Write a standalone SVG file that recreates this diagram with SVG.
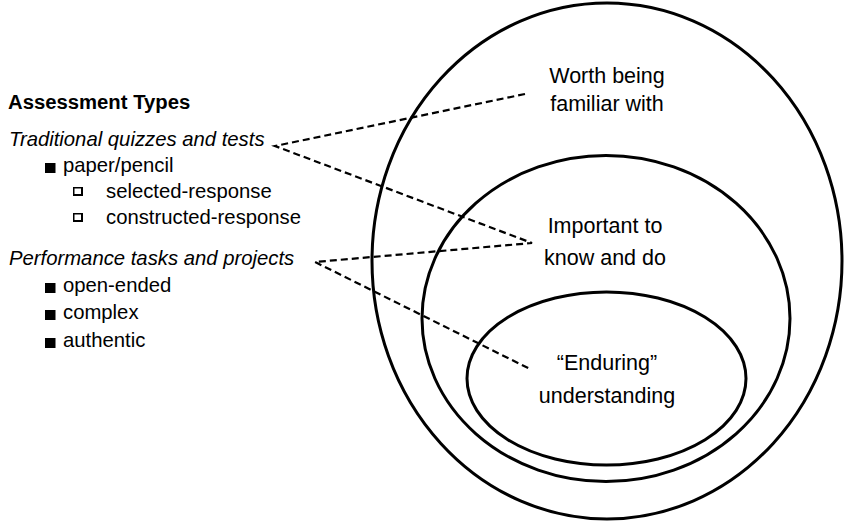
<svg xmlns="http://www.w3.org/2000/svg" width="850" height="524" viewBox="0 0 850 524">
<style>
text{font-family:"Liberation Sans",Arial,sans-serif;fill:#000}
.lt{font-size:20.3px}
.rt{font-size:21.5px;text-anchor:middle}
.ring{fill:none;stroke:#000;stroke-width:3}
.dash{fill:none;stroke:#000;stroke-width:2.2;stroke-dasharray:7 4}
.fb{fill:#000}
.hw{fill:#fff}
</style>
<rect width="850" height="524" fill="#fff"/>
<g id="outer"><ellipse class="ring" cx="607" cy="261" rx="235" ry="258"/></g>
<g id="middle"><ellipse class="ring" cx="606" cy="318.5" rx="184" ry="163"/></g>
<g id="inner"><ellipse class="ring" cx="606.5" cy="378.5" rx="139.5" ry="86.5"/></g>
<g id="label-worth"><text class="rt" x="607" y="83">Worth being</text><text class="rt" x="607" y="111">familiar with</text></g>
<g id="label-important"><text class="rt" x="605" y="233">Important to</text><text class="rt" x="605" y="265">know and do</text></g>
<g id="label-enduring"><text class="rt" x="607" y="370">“Enduring”</text><text class="rt" x="607" y="403">understanding</text></g>
<g id="assessment-types">
<text class="lt" x="8" y="109" font-weight="bold">Assessment Types</text>
<text class="lt" x="9" y="146" font-style="italic">Traditional quizzes and tests</text>
<rect class="fb" x="45" y="163" width="10.5" height="10"/>
<text class="lt" x="63" y="172">paper/pencil</text>
<rect class="fb" x="73" y="187" width="10" height="9"/>
<rect class="hw" x="74.5" y="188.5" width="6.5" height="5.5"/>
<text class="lt" x="106" y="198">selected-response</text>
<rect class="fb" x="73" y="213" width="10" height="9"/>
<rect class="hw" x="74.5" y="214.5" width="6.5" height="5.5"/>
<text class="lt" x="106" y="224">constructed-response</text>
<text class="lt" x="9" y="265" font-style="italic">Performance tasks and projects</text>
<rect class="fb" x="45" y="283" width="10.5" height="10"/>
<text class="lt" x="63" y="292">open-ended</text>
<rect class="fb" x="45" y="310" width="10.5" height="10"/>
<text class="lt" x="63" y="319">complex</text>
<rect class="fb" x="45" y="338" width="10.5" height="10"/>
<text class="lt" x="63" y="347">authentic</text>
</g>
<g id="connectors">
<path class="dash" d="M525,94 L275,146 L532,243 L315,262 L530,369"/>
</g>
</svg>
